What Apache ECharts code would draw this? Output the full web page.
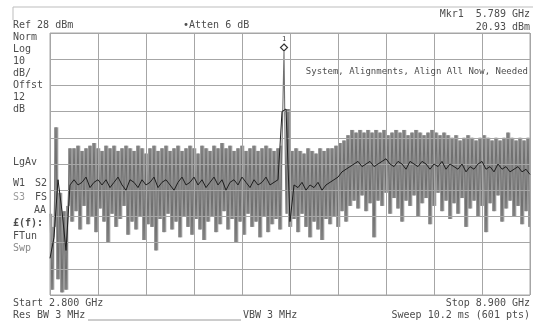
<!DOCTYPE html>
<html>
<head>
<meta charset="utf-8">
<title>Spectrum 2.8 - 8.9 GHz</title>
<script src="https://cdn.jsdelivr.net/npm/echarts@6/dist/echarts.min.js"></script>
<style>
  html, body { margin:0; padding:0; background:#fff; }
  #chart { width:536px; height:321px; }
</style>
</head>
<body>
<div id="chart"></div>
<script>
// sweep setup (from the screen annotations)
var startGHz = 2.8;
var stopGHz = 8.9;
var refDbm = 28;
var dbPerDiv = 10;

// trace 1 (gray, noisy), dBm, every ~2px
var trace1 = [
  -41, -70, -46, -8, -66, -33, -71, -40, -70, -38, -16,
  -44, -16, -40, -15, -47, -17, -38, -16, -45, -15,
  -42, -14, -48, -16, -39, -17, -44, -15, -52, -16,
  -41, -15, -46, -17, -43, -16, -38, -15, -49, -16,
  -44, -17, -47, -15, -42, -16, -51, -18, -45, -16,
  -46, -15, -55, -17, -43, -16, -48, -15, -41, -17,
  -47, -16, -44, -15, -50, -17, -42, -16, -46, -15,
  -49, -16, -43, -18, -47, -15, -51, -16, -44, -17,
  -42, -15, -48, -16, -45, -14, -40, -16, -47, -15,
  -43, -17, -52, -16, -44, -15, -49, -17, -41, -16,
  -46, -15, -44, -17, -50, -16, -42, -15, -48, -16,
  -45, -17, -43, -16, -47, -15,
  20.93, -41, -1, -46,
  -17, -43, -16, -48, -17, -41, -18, -46, -16, -50,
  -17, -44, -18, -47, -16, -51, -17, -43, -16, -45,
  -16, -42, -15, -46, -14, -40, -13, -44, -11, -38,
  -9, -36, -10, -39, -9, -34, -10, -40, -9, -37,
  -10, -50, -9, -36, -10, -38, -9, -33, -11, -41,
  -10, -35, -9, -39, -10, -44, -9, -36, -11, -38,
  -10, -34, -9, -42, -10, -37, -11, -35, -10, -45,
  -9, -38, -10, -33, -11, -40, -10, -36, -11, -43,
  -12, -37, -11, -41, -13, -35, -12, -46, -11, -39,
  -12, -36, -13, -42, -12, -38, -11, -48, -12, -37,
  -13, -40, -12, -34, -13, -44, -12, -39, -10, -36,
  -12, -42, -13, -38, -12, -45, -13, -40, -12, -46
];

// trace 2 (black, log average), dBm, every ~4px
var trace2 = [
  -58, -50, -28, -40, -55, -30,
  -28, -30, -29, -27, -31, -29, -28, -30, -28, -31,
  -29, -27, -30, -32, -28, -29, -31, -28, -30, -29,
  -27, -31, -29, -28, -30, -32, -29, -27, -30, -29,
  -27, -30, -28, -31, -29, -27, -30, -28, -32, -29,
  -28, -30, -27, -29, -31, -28, -30, -29, -27, -30,
  -29, -28,
  -2, -1, -44,
  -30, -31, -29, -32, -30, -31, -29, -32, -30, -29,
  -28, -27, -25, -24, -23,
  -22, -21, -23, -22, -21, -23, -22, -21, -20, -22,
  -23, -21, -22, -24, -21, -22, -23, -21, -22, -24,
  -22, -23, -21, -24, -22, -23, -24, -22, -25, -23,
  -24, -22, -21, -24, -23, -25, -22, -24, -23, -25,
  -24, -23, -25, -24, -26
];

function freqAt(i, n) {
  return startGHz + i * (stopGHz - startGHz) / (n - 1);
}

function toPoints(arr) {
  return arr.map(function (v, i) { return [freqAt(i, arr.length), v]; });
}

// min/max of trace 1 between neighbouring sweep points (the solid gray fill)
var n1 = trace1.length;
var stepGHz = (stopGHz - startGHz) / (n1 - 1);
var envelope = [];
for (var i = 0; i < n1 - 1; i++) {
  var a = trace1[i], b = trace1[i + 1];
  if (a > 0 || b > 0) continue; // the marker spike stays a thin line
  envelope.push([freqAt(i, n1), Math.min(a, b), Math.max(a, b)]);
}

var chart = echarts.init(document.getElementById('chart'));

var font = '10px "DejaVu Sans Mono", monospace';
var txt = '#4d4d4d';
var gridCol = '#a6a6a6';

function label(text, x, y, opts) {
  opts = opts || {};
  return {
    type: 'text', x: x, y: y, z: 10,
    style: {
      text: text,
      font: opts.font || font,
      fill: opts.fill || txt,
      align: opts.align || 'left',
      verticalAlign: 'middle'
    }
  };
}

var texts = [
  label('Ref 28 dBm', 13, 25),
  label('\u2022Atten 6 dB', 183, 25),
  label('Mkr1  5.789 GHz', 530, 14, { align: 'right' }),
  label('20.93 dBm', 530, 27, { align: 'right' }),
  label('System, Alignments, Align All Now, Needed', 528, 72, { align: 'right', font: '9px "DejaVu Sans Mono", monospace' }),
  label('Norm', 13, 37),
  label('Log', 13, 49),
  label('10', 13, 61),
  label('dB/', 13, 73),
  label('Offst', 13, 85),
  label('12', 13, 97),
  label('dB', 13, 109),
  label('LgAv', 13, 162),
  label('W1', 13, 183),
  label('S2', 35, 183),
  label('S3', 13, 197, { fill: '#9a9a9a' }),
  label('FS', 35, 197),
  label('AA', 34, 210),
  label('\u00a3(f):', 13, 223, { font: 'bold 10px "DejaVu Sans Mono", monospace' }),
  label('FTun', 13, 236),
  label('Swp', 13, 248, { fill: '#8a8a8a' }),
  label('Start 2.800 GHz', 13, 303),
  label('Res BW 3 MHz', 13, 315),
  label('VBW 3 MHz', 243, 315),
  label('Stop 8.900 GHz', 530, 303, { align: 'right' }),
  label('Sweep 10.2 ms (601 pts)', 530, 315, { align: 'right' })
];

var frame = [
  { type: 'line', shape: { x1: 13, y1: 7, x2: 533, y2: 7 }, style: { stroke: '#bdbdbd', lineWidth: 1 } },
  { type: 'line', shape: { x1: 13, y1: 7, x2: 13, y2: 20 }, style: { stroke: '#bdbdbd', lineWidth: 1 } },
  { type: 'line', shape: { x1: 88, y1: 320, x2: 241, y2: 320 }, style: { stroke: '#9a9a9a', lineWidth: 1 } }
];

var divAxis = {
  type: 'value', min: 0, max: 10, interval: 1, z: 4,
  axisLabel: { show: false }, axisTick: { show: false }, axisLine: { show: false },
  splitLine: { show: true, lineStyle: { color: gridCol, width: 1 } }
};

chart.setOption({
  animation: false,
  backgroundColor: '#ffffff',
  grid: { left: 50, top: 33, width: 480, height: 262, show: true, borderColor: gridCol, borderWidth: 1, z: 4 },
  xAxis: [
    { type: 'value', min: startGHz, max: stopGHz, show: false },
    divAxis
  ],
  yAxis: [
    { type: 'value', min: refDbm - 10 * dbPerDiv, max: refDbm, show: false },
    divAxis
  ],
  series: [
    {
      name: 'fill',
      type: 'custom',
      xAxisIndex: 0, yAxisIndex: 0,
      data: envelope,
      silent: true,
      z: 1,
      renderItem: function (params, api) {
        var top = api.coord([api.value(0), api.value(2)]);
        var bot = api.coord([api.value(0), api.value(1)]);
        var w = api.size([stepGHz, 0])[0];
        return {
          type: 'rect',
          shape: { x: top[0], y: top[1], width: w + 0.3, height: bot[1] - top[1] },
          style: { fill: '#9a9a9a' }
        };
      }
    },
    {
      name: 'Trace 1',
      type: 'line',
      xAxisIndex: 0, yAxisIndex: 0,
      data: toPoints(trace1),
      showSymbol: false,
      z: 2,
      lineStyle: { color: '#707070', width: 1.1 },
      markPoint: {
        symbol: 'diamond',
        symbolSize: 7,
        symbolOffset: [0, -4],
        itemStyle: { color: '#ffffff', borderColor: '#333', borderWidth: 1.2 },
        label: { show: true, position: 'top', distance: 1, formatter: '1', fontSize: 7, color: '#333', fontFamily: 'DejaVu Sans Mono' },
        data: [{ type: 'max' }]
      }
    },
    {
      name: 'Trace 2',
      type: 'line',
      xAxisIndex: 0, yAxisIndex: 0,
      data: toPoints(trace2),
      showSymbol: false,
      z: 6,
      lineStyle: { color: '#1e1e1e', width: 1 }
    }
  ],
  graphic: frame.concat(texts)
});
</script>
</body>
</html>
